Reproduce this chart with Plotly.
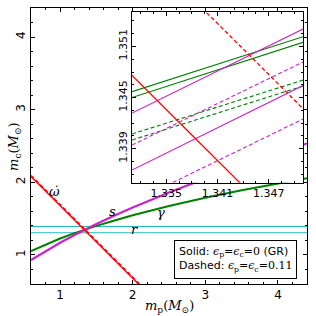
import plotly.graph_objects as go

# ---- data ----
mp_grid = [0.6, 0.8, 1.0, 1.2, 1.35, 1.5, 1.75, 2.0, 2.5, 3.0, 3.5, 4.0, 4.4]
gamma_mc = [1.052, 1.143, 1.226, 1.300, 1.351, 1.400, 1.475, 1.546, 1.673, 1.787, 1.890, 1.985, 2.056]
s_mc = [0.93, 1.05, 1.167, 1.275, 1.352, 1.4255, 1.542, 1.653, 1.86, 2.052, 2.232, 2.403, 2.535]

red_mp = [0.6, 2.1]
red_solid_mc = [2.0786, 0.5786]
red_dashed_mc = [2.0947, 0.5947]

r_mp = [0.5, 4.5]
r_upper = [1.392, 1.392]
r_lower = [1.306, 1.306]

inset_mp = [1.331, 1.351]
g_solid_up = [1.34570, 1.35214]
g_solid_lo = [1.34500, 1.35148]
g_dash_up = [1.34072, 1.34705]
g_dash_lo = [1.34001, 1.34635]
m_solid_up = [1.34318, 1.35304]
m_solid_lo = [1.33649, 1.34641]
m_dash_up = [1.33942, 1.34917]
m_dash_lo = [1.33268, 1.34248]

RED = "#ff0000"
GREEN = "#008000"
MAG = "#cc22cc"
CYAN = "#22b8c0"
DASH = "4px,2.5px"

fig = go.Figure()

def add(x, y, color, width, dash="solid", xa="x", ya="y"):
    fig.add_trace(go.Scatter(x=x, y=y, mode="lines", xaxis=xa, yaxis=ya,
                             line=dict(color=color, width=width, dash=dash),
                             showlegend=False, hoverinfo="skip"))

# main axes
add(r_mp, r_upper, CYAN, 1.1)
add(r_mp, r_lower, CYAN, 1.1)
add(mp_grid, gamma_mc, GREEN, 2)
add(mp_grid, s_mc, MAG, 2.2)
add(red_mp, red_solid_mc, RED, 1.4)
add(red_mp, red_dashed_mc, RED, 1.4, DASH)

# inset
for arr, c, d in [(g_solid_up, GREEN, "solid"), (g_solid_lo, GREEN, "solid"),
                  (g_dash_up, GREEN, DASH), (g_dash_lo, GREEN, DASH),
                  (m_solid_up, MAG, "solid"), (m_solid_lo, MAG, "solid"),
                  (m_dash_up, MAG, DASH), (m_dash_lo, MAG, DASH)]:
    add(inset_mp, arr, c, 1.1, d, "x2", "y2")
add(red_mp, red_solid_mc, RED, 1.3, "solid", "x2", "y2")
add(red_mp, red_dashed_mc, RED, 1.3, DASH, "x2", "y2")

tickfont = dict(family="DejaVu Sans", size=12, color="black")
axcommon = dict(showline=True, linecolor="black", linewidth=1, mirror="ticks",
                ticks="inside", ticklen=4, tickcolor="black", tickwidth=1,
                showgrid=False, zeroline=False, automargin=False)

fig.update_layout(
    width=316, height=316, autosize=False,
    margin=dict(l=31, r=9, t=8, b=32),
    paper_bgcolor="white", plot_bgcolor="white",
    xaxis=dict(**axcommon, range=[0.6, 4.4], tickmode="linear", tick0=1, dtick=1,
               minor=dict(dtick=0.2, tick0=0.6, ticks="inside", ticklen=2, tickcolor="black"),
               tickfont=tickfont),
    yaxis=dict(**axcommon, range=[0.6, 4.4], tickmode="linear", tick0=1, dtick=1,
               minor=dict(dtick=0.2, tick0=0.6, ticks="inside", ticklen=2, tickcolor="black"),
               tickfont=tickfont, tickangle=-90),
    xaxis2=dict(**axcommon, domain=[0.366, 0.9855], anchor="y2", range=[1.331, 1.351],
                tickmode="linear", tick0=1.335, dtick=0.006, tickformat=".3f",
                minor=dict(dtick=0.0015, tick0=1.335, ticks="inside", ticklen=2, tickcolor="black"),
                tickfont=dict(family="DejaVu Sans", size=11, color="black")),
    yaxis2=dict(**axcommon, domain=[0.367, 0.984], anchor="x2", range=[1.335, 1.355],
                tickmode="linear", tick0=1.339, dtick=0.006, tickformat=".3f", tickangle=-90,
                minor=dict(dtick=0.0015, tick0=1.339, ticks="inside", ticklen=2, tickcolor="black"),
                tickfont=dict(family="DejaVu Sans", size=11, color="black")),
)

titlefont = dict(family="DejaVu Serif", size=13, color="black")
fig.add_annotation(x=0.5, y=-0.045, xref="paper", yref="paper", xanchor="center", yanchor="top",
                   text="<i>m</i><sub>p</sub>(<i>M</i><sub>⊙</sub>)", showarrow=False, font=titlefont)
fig.add_annotation(x=-0.1, y=0.5, xref="paper", yref="paper", xanchor="left", yanchor="middle",
                   text="<i>m</i><sub>c</sub>(<i>M</i><sub>⊙</sub>)", showarrow=False, font=titlefont,
                   textangle=-90)

lab = dict(family="DejaVu Serif", size=13, color="black")
fig.add_annotation(x=0.92, y=1.88, xref="x", yref="y", text="<i>ω̇</i>", showarrow=False, font=lab)
fig.add_annotation(x=1.72, y=1.60, xref="x", yref="y", text="<i>s</i>", showarrow=False, font=lab)
fig.add_annotation(x=2.39, y=1.59, xref="x", yref="y", text="<i>γ</i>", showarrow=False, font=lab)
fig.add_annotation(x=2.03, y=1.355, xref="x", yref="y", text="<i>r</i>", showarrow=False, font=lab)

S = '<span style="font-family:DejaVu Serif"><i>ϵ</i><sub>p</sub>=<i>ϵ</i><sub>c</sub>='
fig.add_annotation(
    x=0.964, y=0.018, xref="paper", yref="paper", xanchor="right", yanchor="bottom",
    text="Solid: " + S + "0</span> (GR)<br>Dashed: " + S + "0.11</span>",
    showarrow=False, align="left", bgcolor="white", bordercolor="black", borderwidth=1,
    borderpad=4, font=dict(family="DejaVu Sans", size=11, color="black"))

fig.write_html("out.html", config={"displayModeBar": False},
               post_script="document.body.style.margin='0';")
